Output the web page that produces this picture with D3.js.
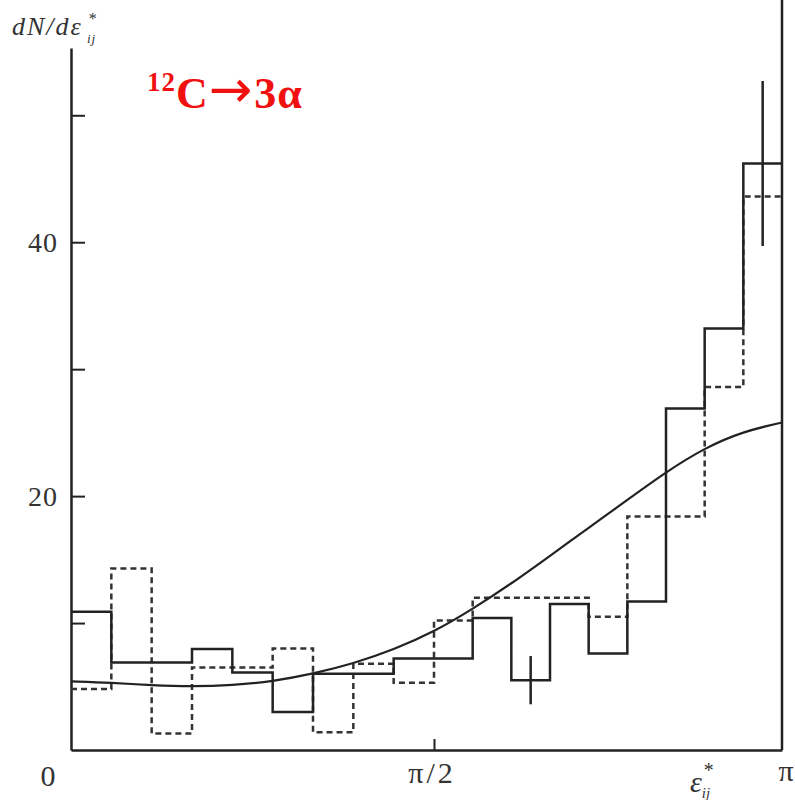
<!DOCTYPE html>
<html>
<head>
<meta charset="utf-8">
<script src="https://cdn.jsdelivr.net/npm/d3@7"></script>
<style>
  body { margin: 0; background: #fff; }
  text { font-family: "Liberation Serif", "DejaVu Serif", serif; }
</style>
</head>
<body>
<script>
const width = 795;
const height = 800;

// 18 bins of 10 degrees each, from 0 to pi
const binStart = [0, 10, 20, 30, 40, 50, 60, 70, 80, 90, 100, 110, 120, 130, 140, 150, 160, 170];
const binWidth = 10;

// experimental histogram (solid)
const solidCounts = [10.9, 6.9, 6.9, 7.95, 6.1, 3.0, 6.0, 6.0, 7.2, 7.2, 10.4, 5.5, 11.5, 7.6, 11.7, 26.9, 33.2, 46.2];
// model histogram (dashed)
const dashedCounts = [4.8, 14.3, 1.3, 6.5, 6.5, 8.0, 1.4, 6.8, 5.3, 10.2, 12.0, 12.0, 12.0, 10.5, 18.4, 18.4, 28.6, 43.6];

// error bars: bin index and half-width
const errBins = [11, 17];
const errSize = [1.9, 6.5];

// smooth curve, read every 10 degrees
const curveDeg = [0, 10, 20, 30, 40, 50, 60, 70, 80, 90, 100, 110, 120, 130, 140, 150, 160, 170, 180];
const curveVal = [5.4, 5.3, 5.1, 5.0, 5.1, 5.4, 6.0, 6.8, 7.9, 9.3, 11.1, 13.1, 15.3, 17.5, 19.7, 21.9, 23.8, 25.1, 25.8];

const yTicks = [10, 20, 30, 40, 50];
const yLabels = { 20: "20", 40: "40" };

const svg = d3.select("body")
    .append("svg")
    .attr("width", width)
    .attr("height", height);

// the scan is a bit stretched, so pi/2 is not exactly in the middle
const x = d3.scaleLinear().domain([0, 90, 180]).range([71, 434, 782]);
const y = d3.scaleLinear().domain([0, 55.3]).range([750, 48]);

const ink = "#222";

// y axis, ticks pointing inward
const yAxis = d3.axisLeft(y)
    .tickValues(yTicks)
    .tickSizeInner(-14)
    .tickSizeOuter(0)
    .tickPadding(13)
    .tickFormat(d => yLabels[d] || "");

const gy = svg.append("g")
    .attr("transform", `translate(${x(0)},0)`)
    .call(yAxis);
gy.select(".domain").attr("stroke", ink).attr("stroke-width", 2.5);
gy.selectAll(".tick line").attr("stroke", ink).attr("stroke-width", 2);
gy.selectAll(".tick text")
    .attr("font-size", 28)
    .attr("letter-spacing", 1)
    .attr("fill", "#333")
    .style("font-family", "'Liberation Serif', serif");

// x axis
const xAxis = d3.axisBottom(x)
    .tickValues([90])
    .tickSizeInner(-11)
    .tickSizeOuter(0)
    .tickFormat("");

const gx = svg.append("g")
    .attr("transform", `translate(0,${y(0)})`)
    .call(xAxis);
gx.select(".domain").attr("stroke", ink).attr("stroke-width", 2.5);
gx.selectAll(".tick line").attr("stroke", ink).attr("stroke-width", 2);

// right frame line
svg.append("line")
    .attr("x1", x(180)).attr("x2", x(180))
    .attr("y1", 0).attr("y2", y(0))
    .attr("stroke", ink)
    .attr("stroke-width", 2.5);

// x labels
const xLab = svg.append("g")
    .attr("font-size", 30)
    .attr("fill", "#333");
xLab.append("text").attr("x", x(0) - 23).attr("y", 786).attr("text-anchor", "middle").text("0");
xLab.append("text").attr("x", x(90) - 2).attr("y", 783).attr("text-anchor", "middle")
    .attr("letter-spacing", 3).text("π/2");
xLab.append("text").attr("x", x(180) + 4).attr("y", 781).attr("text-anchor", "middle").text("π");

const eps = xLab.append("text")
    .attr("x", 690)
    .attr("y", 792)
    .attr("font-style", "italic");
eps.append("tspan").text("ε");
eps.append("tspan").attr("font-size", 20).attr("dy", -15).attr("dx", 1).text("*");
eps.append("tspan").attr("font-size", 15).attr("dy", 21).attr("dx", -11).text("ij");

// y label, with the star and the ij stacked after it
const yTitle = svg.append("g")
    .attr("font-style", "italic")
    .attr("fill", "#333");
yTitle.append("text")
    .attr("x", 12).attr("y", 35)
    .attr("font-size", 26)
    .attr("letter-spacing", 2)
    .text("dN/dε");
yTitle.append("text")
    .attr("x", 88).attr("y", 24)
    .attr("font-size", 16)
    .text("*");
yTitle.append("text")
    .attr("x", 87).attr("y", 43)
    .attr("font-size", 13)
    .attr("letter-spacing", 1)
    .text("ij");

// reaction label
const title = svg.append("text")
    .attr("x", 147)
    .attr("y", 108)
    .attr("font-size", 44)
    .attr("font-weight", "bold")
    .attr("letter-spacing", 1)
    .attr("fill", "#f01010");
title.append("tspan").attr("font-size", 27).attr("dy", -17).text("12");
title.append("tspan").attr("dy", 17).text("C");
title.append("tspan")
    .attr("font-family", "'DejaVu Sans', sans-serif")
    .attr("font-weight", "normal")
    .attr("font-size", 52)
    .attr("dx", 0)
    .attr("dy", -1)
    .text("→");
title.append("tspan").attr("dx", 1).attr("dy", 1).text("3α");

// histograms as step lines
function steps(counts) {
    const pts = binStart.map((b, i) => [b, counts[i]]);
    pts.push([binStart[binStart.length - 1] + binWidth, counts[counts.length - 1]]);
    return pts;
}

const stepLine = d3.line()
    .x(d => x(d[0]))
    .y(d => y(d[1]))
    .curve(d3.curveStepAfter);

svg.append("path")
    .datum(steps(dashedCounts))
    .attr("d", stepLine)
    .attr("fill", "none")
    .attr("stroke", "#333")
    .attr("stroke-width", 2.5)
    .attr("stroke-dasharray", "6,4");

svg.append("path")
    .datum(steps(solidCounts))
    .attr("d", stepLine)
    .attr("fill", "none")
    .attr("stroke", ink)
    .attr("stroke-width", 2.5);

// error bars
svg.selectAll(".err")
    .data(errBins)
    .enter()
    .append("line")
    .attr("class", "err")
    .attr("x1", d => x(binStart[d] + binWidth / 2))
    .attr("x2", d => x(binStart[d] + binWidth / 2))
    .attr("y1", (d, i) => y(solidCounts[d] + errSize[i]))
    .attr("y2", (d, i) => y(solidCounts[d] - errSize[i]))
    .attr("stroke", ink)
    .attr("stroke-width", 2.5);

// smooth curve
const smooth = d3.line()
    .x(d => x(d[0]))
    .y(d => y(d[1]))
    .curve(d3.curveBasis);

svg.append("path")
    .datum(curveDeg.map((d, i) => [d, curveVal[i]]))
    .attr("d", smooth)
    .attr("fill", "none")
    .attr("stroke", ink)
    .attr("stroke-width", 2.2);
</script>
</body>
</html>
